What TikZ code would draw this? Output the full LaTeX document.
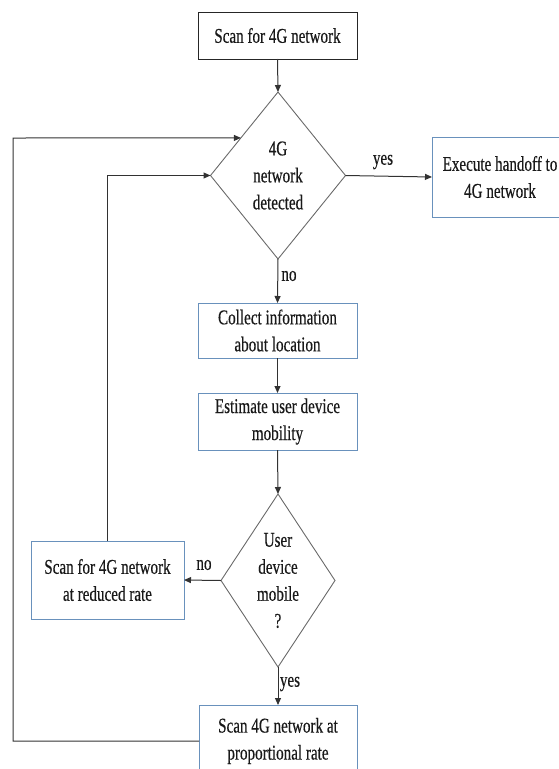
\documentclass[tikz,border=0pt]{standalone}
\usepackage{fontspec}
\setmainfont{Liberation Serif}[FakeStretch=0.72, FakeBold=0.4]
\usetikzlibrary{shapes.geometric,arrows.meta,calc}
\definecolor{boxblue}{RGB}{105,145,188}
\definecolor{linegray}{RGB}{50,50,50}
\definecolor{diagray}{RGB}{105,105,105}
\definecolor{txt}{RGB}{25,25,25}
\tikzset{
  bluebox/.style={rectangle, draw=boxblue, line width=0.8pt, align=center, inner sep=0pt, outer sep=0pt},
  blackbox/.style={rectangle, draw=black!85, line width=0.8pt, align=center, inner sep=0pt, outer sep=0pt},
  decision/.style={diamond, draw=diagray, line width=0.9pt, align=center, inner sep=0pt, outer sep=0pt},
  arr/.style={draw=linegray, line width=1pt, -{Triangle[length=7pt,width=6pt]}},
  lbl/.style={inner sep=0pt}
}
\begin{document}
\begin{tikzpicture}[x=1pt, y=-1pt, font=\fontsize{21}{27}\selectfont, text=txt]
\useasboundingbox (0,0) rectangle (558,769);
\node[blackbox, minimum width=159pt, minimum height=47pt] (scan) at (277.5,35.5) {Scan for 4G network};
\node[decision, minimum width=135pt, minimum height=167pt, shape aspect=0.8] (d1) at (278,175.5) {4G\\network\\detected};
\node[bluebox, minimum width=136pt, minimum height=80pt] (handoff) at (500,177) {Execute handoff to\\4G network};
\node[bluebox, minimum width=159pt, minimum height=55pt] (collect) at (277.5,330.5) {Collect information\\about location};
\node[bluebox, minimum width=159pt, minimum height=57pt] (estimate) at (277.5,421.5) {Estimate user device\\mobility};
\node[decision, minimum width=114pt, minimum height=173pt, shape aspect=0.66] (d2) at (278,580.5) {User\\device\\mobile\\?};
\node[bluebox, minimum width=153pt, minimum height=78pt] (reduced) at (107.5,580) {Scan for 4G network\\at reduced rate};
\node[bluebox, minimum width=158pt, minimum height=72pt] (prop) at (278,741) {Scan 4G network at\\proportional rate};
\node[lbl] (yes1) at (383,162) {yes};
\node[lbl] (no1) at (289,276) {no};
\node[lbl] (no2) at (204,565) {no};
\node[lbl] (yes2) at (290,684) {yes};
\draw[arr] (scan.south) -- (d1.north);
\draw[arr] (d1.east) -- (handoff.west);
\draw[arr] (d1.south) -- (collect.north);
\draw[arr] (collect.south) -- (estimate.north);
\draw[arr] (estimate.south) -- (d2.north);
\draw[arr] (d2.west) -- (reduced.east);
\draw[arr] (d2.south) -- (prop.north);
\draw[arr] (reduced.north) |- (d1.west);
\coordinate (d1in) at ($(d1.north)!0.55!(d1.west)$);
\coordinate (farleft) at (13,138);
\draw[arr] (prop.west) -| (farleft) -- (d1in);
\end{tikzpicture}
\end{document}
